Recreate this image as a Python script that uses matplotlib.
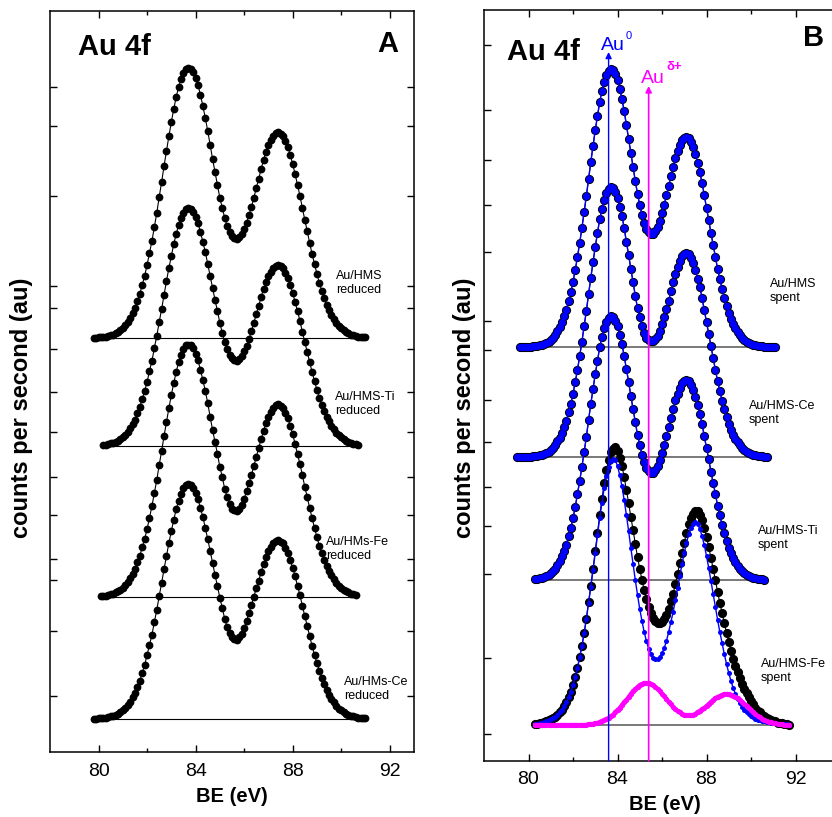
import numpy as np
import matplotlib
matplotlib.use("Agg")
import matplotlib.pyplot as plt
from matplotlib.ticker import FixedLocator

plt.rcParams['font.family'] = ['Liberation Sans', 'DejaVu Sans']

# ---------------- data (heights above each trace's baseline, 0.1 eV steps) -------------
# Panel A: reduced samples
A_labels = ["Au/HMS\nreduced", "Au/HMS-Ti\nreduced", "Au/HMs-Fe\nreduced", "Au/HMs-Ce\nreduced"]
A_start = [79.8, 80.2, 80.1, 79.8]      # first BE value of each trace (eV)
A_offset = [414, 306, 155, 33]          # vertical stacking offsets
A_hms = [0,0,1,1,1,1,2,3,3,5, 6,8,10,13,16,20,25,30,37,44, 53,62,73,85,97,111,125,141,156,172,
         187,202,216,229,241,251,259,265,269,270, 269,266,260,253,243,232,220,207,193,179,
         166,153,140,130,120,112,106,102,100,99, 101,104,109,115,123,131,140,150,159,169,
         178,186,193,198,202,205,206,204,202,197, 191,183,174,164,153,142,130,118,107,95,
         84,74,64,55,47,40,33,28,23,19, 15,12,10,8,6,5,3,3,2,1, 1,1,1]
A_ti = [1,1,2,3,3,4,5,7,9,11, 14,18,22,26,33,39,47,55,64,75, 85,98,110,124,137,151,165,178,190,202,
        212,221,228,233,237,238,237,234,229,223, 214,204,194,182,170,158,146,135,123,113,
        104,97,91,88,86,85,87,90,95,100, 107,115,123,132,140,149,157,164,170,174,
        178,180,181,180,178,173,168,161,153,144, 135,125,114,104,94,84,74,65,56,48,
        41,35,29,25,20,17,13,11,9,7, 5,4,3,2,2,1]
A_fe = [1,1,1,2,3,3,5,6,7,9, 12,15,19,23,28,35,41,50,58,68, 79,91,104,117,132,146,161,175,189,202,
        214,225,235,242,248,252,252,252,249,243, 237,227,217,206,194,180,167,155,143,130,
        120,108,100,93,88,87,86,88,92,98, 106,114,122,131,140,149,158,166,174,180,
        185,189,192,193,191,189,184,179,171,163, 153,143,133,122,110,100,89,79,69,60,
        51,44,37,31,26,22,18,14,11,9, 7,6,5,3,3,2]
A_ce = [0,0,1,1,1,1,2,3,3,4, 5,7,9,11,14,17,22,26,32,38, 46,54,64,74,84,97,109,123,136,150,
        163,176,188,199,210,218,225,231,234,235, 234,231,226,220,211,202,191,180,168,156,
        144,133,121,111,100,92,86,82,80,79, 82,85,91,98,106,114,122,131,138,147,
        155,162,168,172,176,178,179,177,176,171, 166,159,151,143,133,124,113,103,93,83,
        73,64,56,48,41,35,29,24,20,17, 13,10,9,7,5,4,3,3,2,1, 1,1,1]
A_series = [A_hms, A_ti, A_fe, A_ce]
A_label_pos = [(89.78, 469), (89.74, 348), (89.37, 203), (90.11, 63)]

# Panel B: spent samples
B_labels = ["Au/HMS\nspent", "Au/HMS-Ce\nspent", "Au/HMS-Ti\nspent", "Au/HMS-Fe\nspent"]
B_start = [79.6, 79.5, 80.3, 80.3]
B_offset = [414, 304, 181, 36]
B_hms = [0,0,0,0,0,0,1,1,1,2, 2,3,4,5,7,9,12,16,20,25, 31,37,46,55,65,77,90,104,119,135,
         151,168,185,201,217,231,245,256,265,272, 276,278,277,273,267,258,248,236,222,208,
         194,180,166,153,142,132,124,118,115,113, 113,116,120,126,134,142,152,161,171,180,
         189,196,202,207,209,210,209,205,200,193, 184,175,164,152,139,127,114,102,90,78,
         68,58,49,41,34,28,23,19,15,12, 9,7,5,4,3,2,2,1,1,1, 0,0,0,0,0,0]
B_ce = [0, 0,0,0,0,0,0,1,1,1,2, 2,3,4,5,7,9,12,16,19,24, 30,36,45,53,63,75,87,101,115,131,
        146,163,179,195,210,224,238,248,257,264, 268,270,269,265,259,250,241,229,215,202,
        188,175,161,149,140,131,124,119,117,116, 116,118,121,126,133,140,148,156,166,175,
        183,190,196,201,203,204,203,199,194,187, 178,170,159,147,135,123,111,99,87,76,
        66,56,48,40,33,27,22,18,15,12, 9,7,5,4,3,2,2,1,1,1, 0,0]
B_ti = [1,1,2, 2,3,4,5,7,9,11,15,19,24, 29,35,44,52,62,73,86,99,113,128,
        143,160,176,191,206,219,233,243,252,258, 262,264,263,259,254,245,236,224,211,198,
        184,171,158,145,135,125,118,112,109,107, 107,110,114,120,127,135,144,153,162,171,
        180,186,192,197,199,200,199,195,190,183, 175,166,156,144,132,121,108,97,86,74,
        65,55,47,39,32,27,22,18,14,11, 9,7,5,4,3,2,2,1,1,1, 0]
B_fe = [1,1,2,2,3,4,5,6,7,8, 10,13,15,19,23,28,33,40,48,57,
        68,79,92,106,123,139,156,174,192,210, 226,242,255,265,273,276,278,274,267,259,
        248,235,222,208,195,181,168,156,145,135, 126,118,112,107,104,102,102,103,106,110,
        116,124,131,141,151,162,172,182,192,201, 207,211,214,214,210,205,197,188,178,167,
        156,145,133,122,112,102,92,83,74,66, 59,53,47,41,36,32,28,24,21,17,
        14,13,10,9,7,6,5,4,4,2, 2,2,1,1,0]
B_fe_au0 = [1,1,2,2,3,4,5,6,7,8, 10,13,15,19,23,28,33,40,48,57,
            68,79,92,106,122,138,155,172,190,207, 222,237,249,258,264,266,265,259,250,239,
            225,210,194,177,161,145,130,116,104,93, 84,76,71,67,66,66,68,72,77,84,
            93,103,113,125,137,149,161,172,182,191, 197,201,203,201,196,189,180,169,157,144,
            131,118,105,93,82,71,61,52,44,37, 31,26,22,18,15,13,11,9,8,6,
            5,5,4,4,3,3,2,2,2,1, 1,1,1,1,0]
B_fe_aud = [0,0,0,0,0,0,0,0,0,0, 0,0,0,0,0,0,0,0,0,0,
            0,0,0,0,1,1,1,2,2,3, 4,5,6,7,9,10,13,15,17,20,
            23,25,28,31,34,36,38,40,41,42, 42,42,41,40,38,36,34,31,29,26,
            23,21,18,16,14,13,11,10,10,10, 10,10,11,13,14,16,17,19,21,23,
            25,27,28,29,30,31,31,31,30,29, 28,27,25,23,21,19,17,15,13,11,
            9,8,6,5,4,3,3,2,2,1, 1,1,0,0,0]
B_series = [B_hms, B_ce, B_ti, B_fe]
B_label_pos = [(90.85, 470), (89.91, 348), (90.31, 223), (90.45, 90)]
Au0_BE = 83.6
Aud_BE = 85.4

A_yticks = [665, 626, 556, 466, 444, 403, 360, 320, 275, 237, 193, 172, 121, 56]
B_yticks = [716, 651, 601, 556, 509, 440, 411, 361, 319, 274, 235, 187, 103, 27]
x_major = [80, 84, 88, 92]
x_minor = [82, 86, 90]


def be_axis(start, n):
    return start + 0.1 * np.arange(n)


# ---------------- figure ----------------
W, H = 832, 817
fig = plt.figure(figsize=(W / 100, H / 100), dpi=100)
axA = fig.add_axes([50 / W, (H - 752) / H, 364 / W, 741 / H])
axB = fig.add_axes([484 / W, (H - 761) / H, 356 / W, 751 / H])

for ax, yt, pad in ((axA, A_yticks, 8), (axB, B_yticks, 7)):
    ax.xaxis.set_major_locator(FixedLocator(x_major))
    ax.xaxis.set_minor_locator(FixedLocator(x_minor))
    ax.set_yticks(yt)
    ax.tick_params(which='both', direction='in', top=True, right=True,
                   labelleft=False, labelsize=14, width=1, pad=pad)
    ax.tick_params(which='major', length=5)
    ax.tick_params(which='minor', length=3)
    for s in ax.spines.values():
        s.set_linewidth(1.1)

axA.set_xlim(78, 93)
axA.set_ylim(0, 741)
axB.set_xlim(78, 94)
axB.set_ylim(0, 751)

# Panel A traces
for vals, st, off, lab, (lx, ly) in zip(A_series, A_start, A_offset, A_labels, A_label_pos):
    x = be_axis(st, len(vals))
    y = off + np.asarray(vals, float)
    axA.plot([x[0], x[-1]], [off, off], color='k', lw=0.8, zorder=1)
    axA.plot(x, y, '-o', color='k', ms=5.6, mew=0, lw=0.8, zorder=2)
    axA.text(lx, ly, lab, fontsize=9, ha='left', va='center', linespacing=1.25)

# Panel B traces
for i, (vals, st, off, lab, (lx, ly)) in enumerate(zip(B_series, B_start, B_offset, B_labels, B_label_pos)):
    x = be_axis(st, len(vals))
    y = off + np.asarray(vals, float)
    axB.plot([x[0], x[-1]], [off, off], color='#555555', lw=1.1, zorder=1)
    axB.plot(x, y, '-o', color='k', ms=6.6, mew=0, lw=0.8, zorder=2)
    if i < 3:
        axB.plot(x, y, '-o', color='#0000ff', ms=5.2, mew=0, lw=1.0, zorder=3)
    axB.text(lx, ly, lab, fontsize=9, ha='left', va='center', linespacing=1.25)

# Fe components
xf = be_axis(B_start[3], len(B_fe_au0))
axB.plot(xf, B_offset[3] + np.asarray(B_fe_au0, float), '-o', color='#0000ff',
         ms=3.6, mew=0, lw=1.0, zorder=3)
axB.plot(xf, B_offset[3] + np.asarray(B_fe_aud, float), '-o', color='#ff00ff',
         ms=3.8, mew=0, lw=3.0, zorder=4)

# reference lines with arrows
axB.annotate('', xy=(Au0_BE, 709), xytext=(Au0_BE, 0),
             arrowprops=dict(arrowstyle='-|>', color='#0000ff', lw=1.0,
                             shrinkA=0, shrinkB=0, mutation_scale=9), zorder=6)
axB.annotate('', xy=(Aud_BE, 675), xytext=(Aud_BE, 0),
             arrowprops=dict(arrowstyle='-|>', color='#ff00ff', lw=1.2,
                             shrinkA=0, shrinkB=0, mutation_scale=9), zorder=6)
axB.text(83.8, 711, 'Au', color='#0000ff', fontsize=14, ha='center', va='baseline')
axB.text(84.35, 725, '0', color='#0000ff', fontsize=8, ha='left', va='center')
axB.text(85.6, 678, 'Au', color='#ff00ff', fontsize=14, ha='center', va='baseline')
axB.text(86.18, 694, 'δ+', color='#ff00ff', fontsize=9.5, fontweight='bold',
         ha='left', va='center')

# panel titles
axA.text(79.15, 697, 'Au 4f', fontsize=21, fontweight='bold', ha='left', va='baseline')
axA.text(91.93, 700, 'A', fontsize=21, fontweight='bold', ha='center', va='baseline')
axB.text(79.03, 701, 'Au 4f', fontsize=21, fontweight='bold', ha='left', va='baseline')
axB.text(92.79, 715, 'B', fontsize=21, fontweight='bold', ha='center', va='baseline')

# axis labels
fig.text(232 / W, 1 - 797 / H, 'BE (eV)', fontsize=14.5, fontweight='bold', ha='center', va='center')
fig.text(665 / W, 1 - 805 / H, 'BE (eV)', fontsize=14.5, fontweight='bold', ha='center', va='center')
fig.text(22 / W, 1 - 408 / H, 'counts per second (au)', fontsize=17, fontweight='bold',
         rotation=90, ha='center', va='center')
fig.text(464 / W, 1 - 408 / H, 'counts per second (au)', fontsize=17, fontweight='bold',
         rotation=90, ha='center', va='center')

fig.savefig('out.png', dpi=100)
